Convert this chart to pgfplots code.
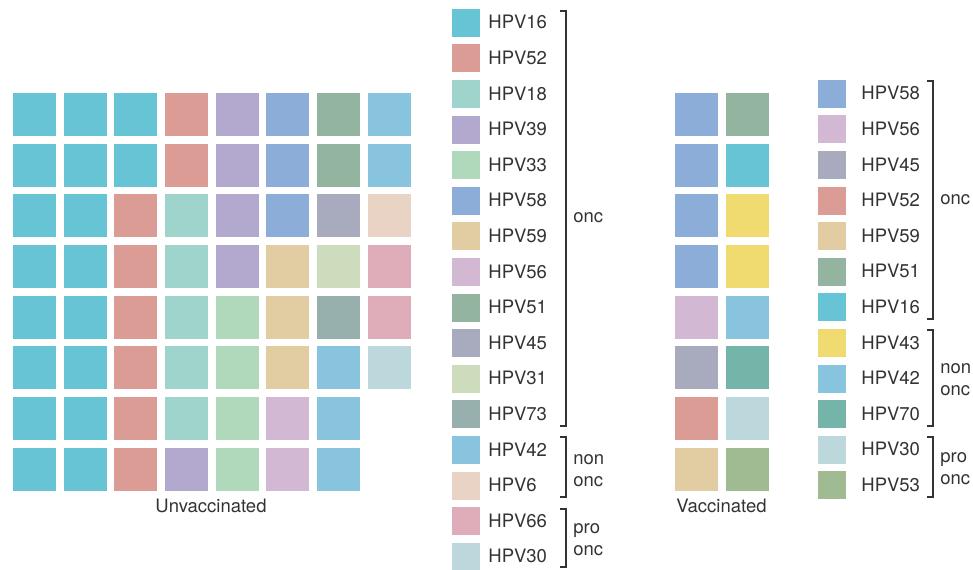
\documentclass[border=0pt]{standalone}
\usepackage{pgfplots}
\pgfplotsset{compat=1.18}
\usepackage{fontspec}
\setmainfont{TeX Gyre Heros}
\definecolor{txt}{HTML}{333333}
\definecolor{c16}{HTML}{67C4D5}
\definecolor{c52}{HTML}{DA9C95}
\definecolor{c18}{HTML}{9ED4CC}
\definecolor{c39}{HTML}{B3A9CF}
\definecolor{c33}{HTML}{B0D8BA}
\definecolor{c58}{HTML}{8CADD8}
\definecolor{c59}{HTML}{E2CCA2}
\definecolor{c56}{HTML}{D3B8D3}
\definecolor{c51}{HTML}{93B59F}
\definecolor{c45}{HTML}{A8AABD}
\definecolor{c31}{HTML}{CCDCBD}
\definecolor{c73}{HTML}{97B0AE}
\definecolor{c42}{HTML}{89C4DE}
\definecolor{c6}{HTML}{E9D3C5}
\definecolor{c66}{HTML}{DEADB9}
\definecolor{c30}{HTML}{BCD8DC}
\definecolor{c43}{HTML}{F0DB70}
\definecolor{c70}{HTML}{74B4A9}
\definecolor{c53}{HTML}{A0BB92}
\pgfplotsset{
  big/.style={only marks, mark=square*, mark size=10.5pt, line width=0.1pt, color=#1},
  small/.style={only marks, mark=square*, mark size=6.75pt, line width=0.1pt, color=#1},
}
\tikzset{lab/.style={font=\fontsize{9.25}{10.9}\selectfont, text=txt, inner sep=0pt, anchor=west}}
\begin{document}
\begin{tikzpicture}
\begin{axis}[hide axis, scale only axis, width=486.5pt, height=284.5pt,
  xmin=0, xmax=973, ymin=0, ymax=569, y dir=reverse, clip=false]
% ---- Unvaccinated + Vaccinated grids ----
\addplot[big=c16] coordinates {(34,114)(84.7,114)(135.3,114)(34,164.7)(84.7,164.7)(135.3,164.7)
 (34,215.3)(84.7,215.3)(34,266)(84.7,266)(34,316.7)(84.7,316.7)(34,367.3)(84.7,367.3)
 (34,418)(84.7,418)(34,468.7)(84.7,468.7)(746.8,164.7)};
\addplot[big=c52] coordinates {(186,114)(186,164.7)(135.3,215.3)(135.3,266)(135.3,316.7)(135.3,367.3)(135.3,418)(135.3,468.7)(696,418)};
\addplot[big=c18] coordinates {(186,215.3)(186,266)(186,316.7)(186,367.3)(186,418)};
\addplot[big=c39] coordinates {(236.7,114)(236.7,164.7)(236.7,215.3)(236.7,266)(186,468.7)};
\addplot[big=c33] coordinates {(236.7,316.7)(236.7,367.3)(236.7,418)(236.7,468.7)};
\addplot[big=c58] coordinates {(287.3,114)(287.3,164.7)(287.3,215.3)(696,114)(696,164.7)(696,215.3)(696,266)};
\addplot[big=c59] coordinates {(287.3,266)(287.3,316.7)(287.3,367.3)(696,468.7)};
\addplot[big=c56] coordinates {(287.3,418)(287.3,468.7)(696,316.7)};
\addplot[big=c51] coordinates {(338,114)(338,164.7)(746.8,114)};
\addplot[big=c45] coordinates {(338,215.3)(696,367.3)};
\addplot[big=c31] coordinates {(338,266)};
\addplot[big=c73] coordinates {(338,316.7)};
\addplot[big=c42] coordinates {(388.7,114)(388.7,164.7)(338,367.3)(338,418)(338,468.7)(746.8,316.7)};
\addplot[big=c6] coordinates {(388.7,215.3)};
\addplot[big=c66] coordinates {(388.7,266)(388.7,316.7)};
\addplot[big=c30] coordinates {(388.7,367.3)(746.8,418)};
\addplot[big=c43] coordinates {(746.8,215.3)(746.8,266)};
\addplot[big=c70] coordinates {(746.8,367.3)};
\addplot[big=c53] coordinates {(746.8,468.7)};
% ---- Legend swatches ----
\addplot[small=c16] coordinates {(465.5,22.3)(831.5,306.9)};
\addplot[small=c52] coordinates {(465.5,57.9)(831.5,200.1)};
\addplot[small=c18] coordinates {(465.5,93.5)};
\addplot[small=c39] coordinates {(465.5,129.1)};
\addplot[small=c33] coordinates {(465.5,164.7)};
\addplot[small=c58] coordinates {(465.5,200.3)(831.5,93.3)};
\addplot[small=c59] coordinates {(465.5,235.9)(831.5,235.7)};
\addplot[small=c56] coordinates {(465.5,271.5)(831.5,128.9)};
\addplot[small=c51] coordinates {(465.5,307.1)(831.5,271.3)};
\addplot[small=c45] coordinates {(465.5,342.7)(831.5,164.5)};
\addplot[small=c31] coordinates {(465.5,378.3)};
\addplot[small=c73] coordinates {(465.5,413.9)};
\addplot[small=c42] coordinates {(465.5,449.5)(831.5,378.1)};
\addplot[small=c6] coordinates {(465.5,485.1)};
\addplot[small=c66] coordinates {(465.5,520.7)};
\addplot[small=c30] coordinates {(465.5,556.3)(831.5,449.3)};
\addplot[small=c43] coordinates {(831.5,342.5)};
\addplot[small=c70] coordinates {(831.5,413.7)};
\addplot[small=c53] coordinates {(831.5,484.9)};
% ---- Legend 1 text ----
\node[lab] at (axis cs:488,22.3) {HPV16};
\node[lab] at (axis cs:488,57.9) {HPV52};
\node[lab] at (axis cs:488,93.5) {HPV18};
\node[lab] at (axis cs:488,129.1) {HPV39};
\node[lab] at (axis cs:488,164.7) {HPV33};
\node[lab] at (axis cs:488,200.3) {HPV58};
\node[lab] at (axis cs:488,235.9) {HPV59};
\node[lab] at (axis cs:488,271.5) {HPV56};
\node[lab] at (axis cs:488,307.1) {HPV51};
\node[lab] at (axis cs:488,342.7) {HPV45};
\node[lab] at (axis cs:488,378.3) {HPV31};
\node[lab] at (axis cs:488,413.9) {HPV73};
\node[lab] at (axis cs:488,449.5) {HPV42};
\node[lab] at (axis cs:488,485.1) {HPV6};
\node[lab] at (axis cs:488,520.7) {HPV66};
\node[lab] at (axis cs:488,556.3) {HPV30};
% ---- Legend 2 text ----
\node[lab] at (axis cs:861,93.3) {HPV58};
\node[lab] at (axis cs:861,128.9) {HPV56};
\node[lab] at (axis cs:861,164.5) {HPV45};
\node[lab] at (axis cs:861,200.1) {HPV52};
\node[lab] at (axis cs:861,235.7) {HPV59};
\node[lab] at (axis cs:861,271.3) {HPV51};
\node[lab] at (axis cs:861,306.9) {HPV16};
\node[lab] at (axis cs:861,342.5) {HPV43};
\node[lab] at (axis cs:861,378.1) {HPV42};
\node[lab] at (axis cs:861,413.7) {HPV70};
\node[lab] at (axis cs:861,449.3) {HPV30};
\node[lab] at (axis cs:861,484.9) {HPV53};
% ---- Brackets ----
\draw[txt, line width=1.1pt] (axis cs:560,10.7) -- (axis cs:566,10.7) -- (axis cs:566,426) -- (axis cs:560,426);
\draw[txt, line width=1.1pt] (axis cs:560,437.3) -- (axis cs:566,437.3) -- (axis cs:566,497.3) -- (axis cs:560,497.3);
\draw[txt, line width=1.1pt] (axis cs:560,508.7) -- (axis cs:566,508.7) -- (axis cs:566,567) -- (axis cs:560,567);
\draw[txt, line width=1.1pt] (axis cs:927,80.7) -- (axis cs:933,80.7) -- (axis cs:933,319.3) -- (axis cs:927,319.3);
\draw[txt, line width=1.1pt] (axis cs:927,330) -- (axis cs:933,330) -- (axis cs:933,426) -- (axis cs:927,426);
\draw[txt, line width=1.1pt] (axis cs:927,436.7) -- (axis cs:933,436.7) -- (axis cs:933,496.7) -- (axis cs:927,496.7);
\node[lab] at (axis cs:573,218) {onc};
\node[lab, align=left] at (axis cs:573,471) {non\\onc};
\node[lab, align=left] at (axis cs:573,540) {pro\\onc};
\node[lab] at (axis cs:940,200) {onc};
\node[lab, align=left] at (axis cs:940,380) {non\\onc};
\node[lab, align=left] at (axis cs:940,469) {pro\\onc};
% ---- Panel labels ----
\node[lab, anchor=center] at (axis cs:211,506) {Unvaccinated};
\node[lab, anchor=center] at (axis cs:721.5,506) {Vaccinated};
\end{axis}
\pgfresetboundingbox
\useasboundingbox (current axis.south west) rectangle (current axis.north east);
\end{tikzpicture}
\end{document}
